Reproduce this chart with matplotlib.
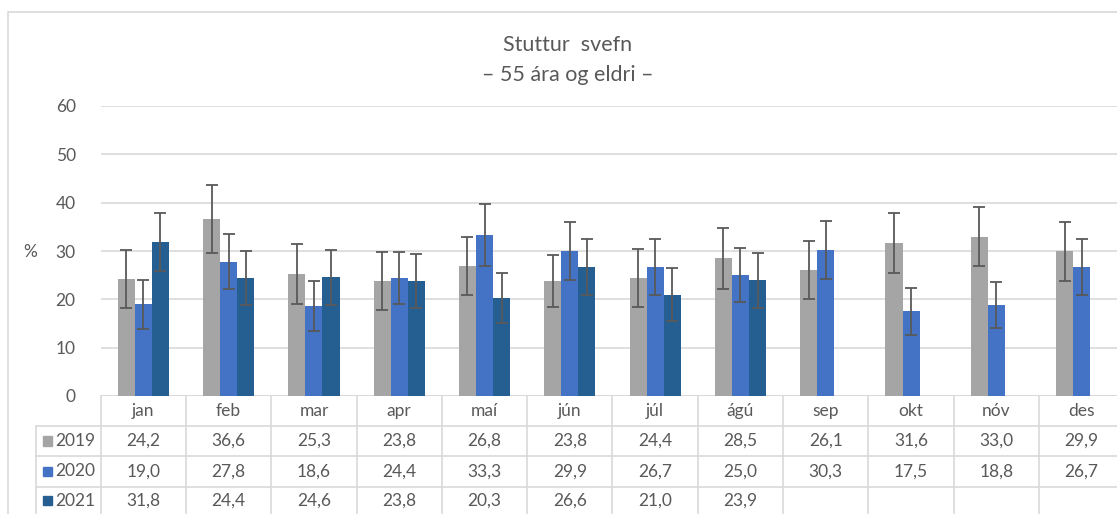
import numpy as np
import matplotlib
matplotlib.use("Agg")
import matplotlib.pyplot as plt
from matplotlib.patches import Rectangle

plt.rcParams['font.family'] = ['Lato', 'DejaVu Sans']

"""
Data
"""
months = ['jan', 'feb', 'mar', 'apr', 'maí', 'jún', 'júl', 'ágú', 'sep', 'okt', 'nóv', 'des']
years = ['2019', '2020', '2021']

v2019 = [24.2, 36.6, 25.3, 23.8, 26.8, 23.8, 24.4, 28.5, 26.1, 31.6, 33.0, 29.9]
v2020 = [19.0, 27.8, 18.6, 24.4, 33.3, 29.9, 26.7, 25.0, 30.3, 17.5, 18.8, 26.7]
v2021 = [31.8, 24.4, 24.6, 23.8, 20.3, 26.6, 21.0, 23.9, None, None, None, None]

# error bar half widths
e2019 = [6.0, 7.0, 6.2, 6.0, 6.0, 5.4, 6.0, 6.3, 6.0, 6.2, 6.2, 6.2]
e2020 = [5.1, 5.7, 5.1, 5.4, 6.4, 6.0, 5.7, 5.6, 6.0, 4.8, 4.8, 5.7]
e2021 = [6.0, 5.6, 5.7, 5.6, 5.2, 5.8, 5.5, 5.6, None, None, None, None]

colors = ['#A5A5A5', '#4472C4', '#255E91']
TXT = '#595959'
GRID = '#D9D9D9'

"""
Layout (pixels)
"""
W, H = 1117, 514
LEFT = 100.7
COLW = 85.3
ZERO_Y = 396
TOP_Y = 106
ROWS = [396, 426, 456, 487, 514]
FS = 12.5

fig = plt.figure(figsize=(W / 100, H / 100), dpi=100)
fig.patch.set_facecolor('white')

ax_w = 12 * COLW / W
ax = fig.add_axes([LEFT / W, 1 - ZERO_Y / H, ax_w, (ZERO_Y - TOP_Y) / H])

x = np.arange(len(months))
bw = 0.2
series = [(v2019, e2019), (v2020, e2020), (v2021, e2021)]
for k, (vals, errs) in enumerate(series):
    xs = [xi + (k - 1) * bw for xi, v in zip(x, vals) if v is not None]
    ys = [v for v in vals if v is not None]
    es = [e for e in errs if e is not None]
    ax.bar(xs, ys, width=bw, color=colors[k], zorder=2)
    ax.errorbar(xs, ys, yerr=es, fmt='none', ecolor='#595959',
                elinewidth=1.3, capsize=4, capthick=1.3, zorder=3)

ax.set_xlim(-0.5, 11.5)
ax.set_ylim(0, 60)
ax.set_yticks(range(0, 61, 10))
ax.yaxis.grid(True, color=GRID, lw=1.2)
ax.set_axisbelow(True)
for s in ax.spines.values():
    s.set_visible(False)
ax.set_xticks([])
ax.tick_params(axis='y', length=0, pad=18, labelsize=FS, labelcolor=TXT)
ax.axhline(0, color=GRID, lw=1.5, zorder=1)

fig.text(30 / W, 1 - 252 / H, '%', ha='center', va='center', fontsize=FS, color=TXT)

# title
fig.text(568 / W, 1 - 45 / H, 'Stuttur  svefn', ha='center', va='center', fontsize=15.5, color=TXT)
fig.text(568 / W, 1 - 75 / H, '– 55 ára og eldri –', ha='center', va='center', fontsize=15.5, color=TXT)

"""
Data table below the chart
"""
tab = fig.add_axes([LEFT / W, 0, ax_w, (H - ZERO_Y) / H])
tab.set_xlim(-0.5, 11.5)
tab.set_ylim(H, ZERO_Y)
tab.axis('off')

label_left = -0.5 - (LEFT - 35.7) / COLW
for y in ROWS[1:-1]:
    tab.plot([label_left, 11.5], [y, y], color=GRID, lw=1.2, clip_on=False)
for i in range(13):
    tab.plot([i - 0.5, i - 0.5], [ROWS[0], H], color=GRID, lw=1.2, clip_on=False)
tab.plot([label_left, label_left], [ROWS[1], H], color=GRID, lw=1.2, clip_on=False)

for i, m in enumerate(months):
    tab.text(i, (ROWS[0] + ROWS[1]) / 2, m, ha='center', va='center', fontsize=FS, color=TXT)

sq = 9.5
for k, (vals, _) in enumerate(series):
    yc = (ROWS[k + 1] + ROWS[k + 2]) / 2
    x0 = -0.5 - (LEFT - 42.5) / COLW
    tab.add_patch(Rectangle((x0, yc - sq / 2), sq / COLW, sq, color=colors[k], clip_on=False))
    tab.text(-0.5 - (LEFT - 55) / COLW, yc, years[k], ha='left', va='center',
             fontsize=FS, color=TXT, clip_on=False)
    for i, v in enumerate(vals):
        if v is None:
            continue
        tab.text(i, yc, '{:.1f}'.format(v).replace('.', ','), ha='center', va='center',
                 fontsize=FS, color=TXT)

# outer chart border
fig.add_artist(Rectangle((7.5 / W, -0.1), 1.2, 1.1 - 12 / H, fill=False, edgecolor=GRID, lw=1.2,
                         transform=fig.transFigure))

fig.savefig('out.png', dpi=100)
